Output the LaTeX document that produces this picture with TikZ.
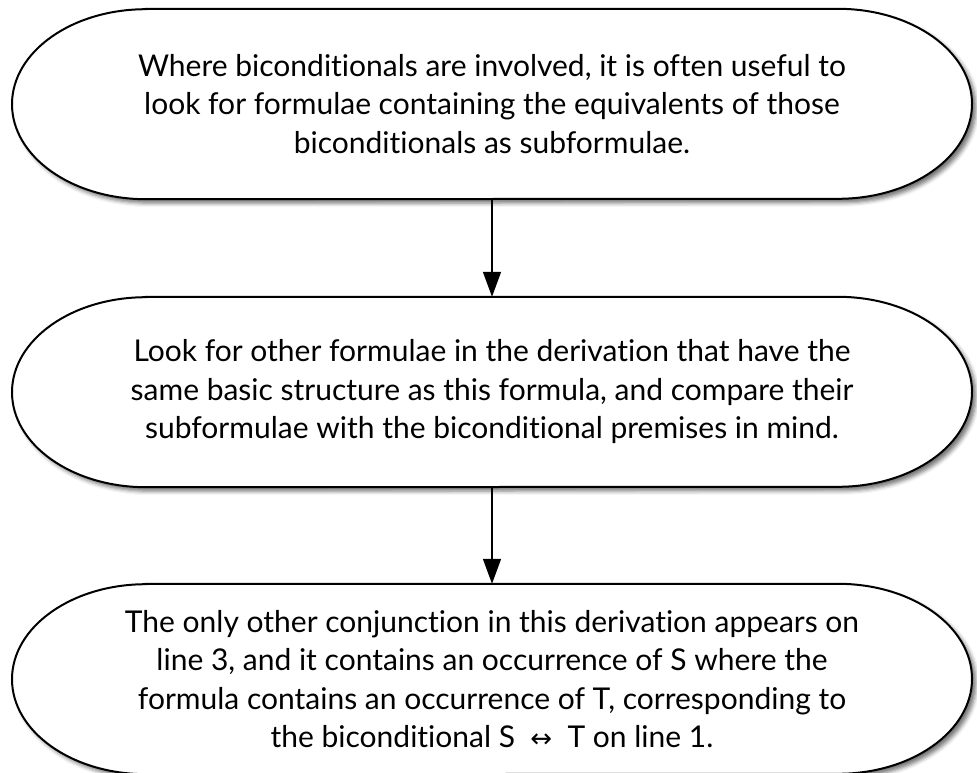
\documentclass[tikz,border=0pt]{standalone}
\usepackage{fontspec}
\setmainfont{Lato}[Ligatures=NoCommon]
\newfontfamily\symfont{DejaVu Sans}
\usetikzlibrary{arrows.meta,backgrounds,shadows.blur}
\begin{document}
\begin{tikzpicture}[x=1pt,y=-1pt,
  pill/.style={minimum width=960pt, minimum height=190pt, inner sep=0pt, align=center,
    font=\fontsize{30}{38.5}\selectfont},
  outline/.style={draw=black, line width=2pt, fill=white,
    blur shadow={shadow xshift=4pt, shadow yshift=-4pt, shadow blur radius=4pt, shadow opacity=55}},
  flow/.style={draw=black, line width=1.5pt, -{Triangle[width=18pt,length=25pt]}}]
\useasboundingbox (0,0) rectangle (977,773);
\node[pill] (a) at (492,104) {Where biconditionals are involved, it is often useful to\\look for formulae containing the equivalents of those\\biconditionals as subformulae.};
\node[pill] (b) at (492,392) {Look for other formulae in the derivation that have the\\same basic structure as this formula, and compare their\\subformulae with the biconditional premises in mind.};
\node[pill] (c) at (492,679) {The only other conjunction in this derivation appears on\\line 3, and it contains an occurrence of S where the\\formula contains an occurrence of T, corresponding to\\the biconditional S\ \ {\symfont\fontsize{26}{30}\selectfont ↔}\ \ T on line 1.};
\begin{scope}[on background layer]
\foreach \n in {a,b,c}{
  \draw[outline] ([xshift=-346pt]\n.north) -- ([xshift=346pt]\n.north)
    arc[start angle=90, end angle=-90, x radius=134pt, y radius=95pt]
    -- ([xshift=-346pt]\n.south)
    arc[start angle=270, end angle=90, x radius=134pt, y radius=95pt] -- cycle;
}
\end{scope}
\draw[flow] (a.south) -- (b.north);
\draw[flow] (b.south) -- (c.north);
\end{tikzpicture}
\end{document}
